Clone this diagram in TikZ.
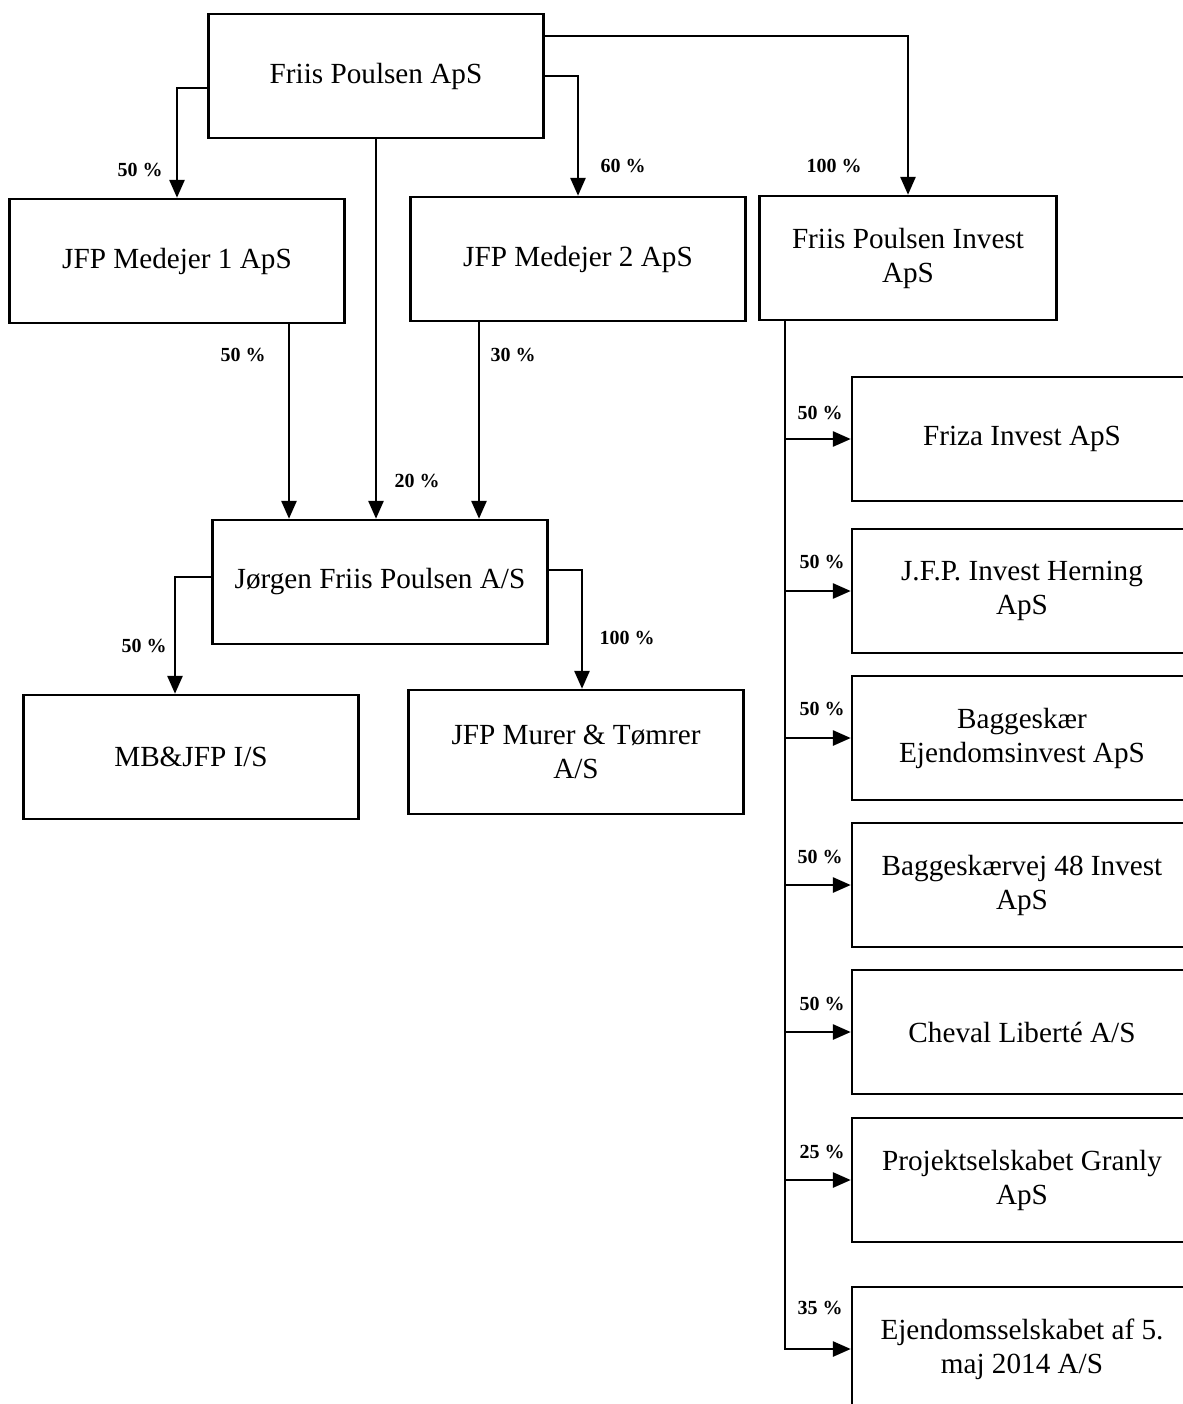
\documentclass[tikz,border=0pt]{standalone}
\usepackage{fontspec}
\setmainfont{Liberation Serif}
\usetikzlibrary{arrows.meta}
\tikzset{
  firm/.style={draw, line width=1.2pt, align=center, inner sep=2pt,
    font=\fontsize{14.6}{17}\selectfont,
    minimum width=167.5pt, minimum height=62pt},
  share/.style={font=\fontsize{10}{12}\selectfont\bfseries, inner sep=0pt},
  own/.style={line width=1.4pt, -{Triangle[length=9pt,width=7.5pt]}},
}
\begin{document}
\begin{tikzpicture}[x=0.5pt, y=-0.5pt]
      \fill[white] (0,0) rectangle (1183,1404);
      \useasboundingbox (0,0) rectangle (1183,1404);
      \clip (0,0) rectangle (1183,1404);
      \draw
        (376,76) node[firm] (fp) {Friis Poulsen ApS}
        (177,261) node[firm] (m1) {JFP Medejer 1 ApS}
        (578,259) node[firm] (m2) {JFP Medejer 2 ApS}
        (908,258) node[firm, minimum width=148.5pt] (fpi) {Friis Poulsen Invest\\ApS}
        (380,582) node[firm] (jfp) {Jørgen Friis Poulsen A/S}
        (191,757) node[firm] (mb) {MB\&JFP I/S}
        (576,752) node[firm] (mt) {JFP Murer \& Tømrer\\A/S};
      \draw
        (1022,439) node[firm, minimum width=170pt] (r1) {Friza Invest ApS}
        (1022,591) node[firm, minimum width=170pt] (r2) {J.F.P. Invest Herning\\ApS}
        (1022,738) node[firm, minimum width=170pt] (r3) {Baggeskær\\Ejendomsinvest ApS}
        (1022,885) node[firm, minimum width=170pt] (r4) {Baggeskærvej 48 Invest\\ApS}
        (1022,1032) node[firm, minimum width=170pt] (r5) {Cheval Liberté A/S}
        (1022,1180) node[firm, minimum width=170pt] (r6) {Projektselskabet Granly\\ApS}
        (1022,1349) node[firm, minimum width=170pt] (r7) {Ejendomsselskabet af 5.\\maj 2014 A/S};
      \draw
        (140,170) node[share] (p1) {50 \%}
        (623,166) node[share] (p2) {60 \%}
        (834,166) node[share] (p3) {100 \%}
        (243,355) node[share] (p4) {50 \%}
        (513,355) node[share] (p5) {30 \%}
        (417,481) node[share] (p6) {20 \%}
        (144,646) node[share] (p7) {50 \%}
        (627,638) node[share] (p8) {100 \%}
        (820,413) node[share] (q1) {50 \%}
        (822,562) node[share] (q2) {50 \%}
        (822,709) node[share] (q3) {50 \%}
        (820,857) node[share] (q4) {50 \%}
        (822,1004) node[share] (q5) {50 \%}
        (822,1152) node[share] (q6) {25 \%}
        (820,1308) node[share] (q7) {35 \%};
      \begin{scope}[own]
        \draw ([yshift=-6pt]fp.west) -| (m1.north);
        \draw (fp.east) -| (m2.north);
        \draw ([yshift=20pt]fp.east) -| (fpi.north);
        \draw (fp.south) -- (fp.south |- jfp.north);
        \draw ([xshift=56pt]m1.south) -- ([xshift=56pt]m1.south |- jfp.north);
        \draw ([xshift=-49.5pt]m2.south) -- ([xshift=-49.5pt]m2.south |- jfp.north);
        \draw ([yshift=2.5pt]jfp.west) -| ([xshift=-8pt]mb.north);
        \draw ([yshift=6pt]jfp.east) -| ([xshift=3pt]mt.north);
        \draw ([xshift=-61.5pt]fpi.south) coordinate (t0) |- (r7.west);
        \draw (t0 |- r1.west) -- (r1.west);
        \draw (t0 |- r2.west) -- (r2.west);
        \draw (t0 |- r3.west) -- (r3.west);
        \draw (t0 |- r4.west) -- (r4.west);
        \draw (t0 |- r5.west) -- (r5.west);
        \draw (t0 |- r6.west) -- (r6.west);
      \end{scope}
    \end{tikzpicture}
\end{document}
